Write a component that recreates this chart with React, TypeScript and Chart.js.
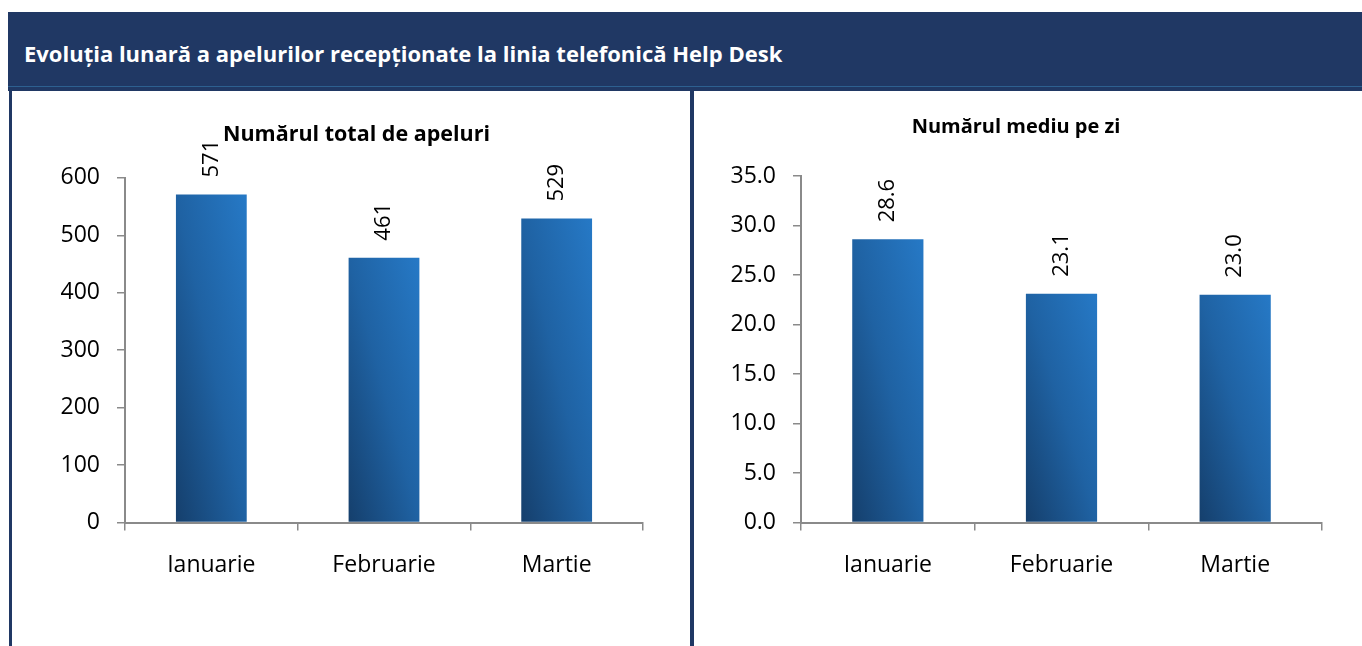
import React, { useEffect, useRef } from "react";
import { Chart, registerables } from "chart.js";

Chart.register(...registerables);

// ---- data ----
const headerTitle = "Evoluția lunară a apelurilor recepționate la linia telefonică Help Desk";
const categories = ["Ianuarie", "Februarie", "Martie"];
const totalCalls = [571, 461, 529];
const averagePerDay = [28.6, 23.1, 23.0];
const totalTitle = "Numărul total de apeluri";
const averageTitle = "Numărul mediu pe zi";
const totalAxis = [0, 600, 100]; // min, max, step
const averageAxis = [0, 35, 5];

// ---- styling ----
const FONT = "'Open Sans', Lato, sans-serif";
const NAVY = "#203864";
const AXIS = "#8a8a8a";
const BAR_PCT = 0.41;

const valueLabels = {
  id: "valueLabels",
  afterDatasetsDraw(chart: any, _args: any, opts: any) {
    const { ctx } = chart;
    const meta = chart.getDatasetMeta(0);
    const data = chart.data.datasets[0].data as number[];
    ctx.save();
    ctx.font = `22px ${FONT}`;
    ctx.fillStyle = "#000";
    ctx.textAlign = "left";
    ctx.textBaseline = "middle";
    meta.data.forEach((el: any, i: number) => {
      const p = el.getProps(["x", "y"], true);
      ctx.save();
      ctx.translate(p.x, p.y - 17);
      ctx.rotate(-Math.PI / 2);
      ctx.fillText(Number(data[i]).toFixed(opts.decimals || 0), 0, 0);
      ctx.restore();
    });
    ctx.restore();
  },
};

// centres the title block on a given canvas x
const titleCenter = {
  id: "titleCenter",
  afterLayout(chart: any, _args: any, opts: any) {
    const t = chart.titleBlock;
    if (!t || opts.x == null) return;
    const w = t.right - t.left;
    t.left = opts.x - w / 2;
    t.right = opts.x + w / 2;
  },
};

function barGradient(c: any) {
  const chart = c.chart;
  const xs = chart.scales?.x;
  const ys = chart.scales?.y;
  if (!xs || !ys || c.type !== "data" || !xs.width) return "#1f62a3";
  const v = Number(c.raw);
  const xc = xs.getPixelForValue(c.dataIndex);
  const w = (xs.width / categories.length) * BAR_PCT;
  const xl = xc - w / 2;
  const yb = ys.getPixelForValue(0);
  const yt = ys.getPixelForValue(v);
  const h = Math.max(yb - yt, 1);
  const k = (2 * w * h) / (w * w + h * h);
  const g = chart.ctx.createLinearGradient(xl, yb, xl + h * k, yb - w * k);
  g.addColorStop(0, "#153f6c");
  g.addColorStop(0.5, "#1f62a3");
  g.addColorStop(1, "#2679c6");
  return g;
}

function makeConfig(
  values: number[],
  title: string,
  titleSize: number,
  titleX: number,
  axis: number[],
  decimals: number,
  yWidth: number,
  rightPad: number,
  titleTop: number,
  titleBottom: number
): any {
  return {
    type: "bar",
    data: {
      labels: categories,
      datasets: [
        {
          data: values,
          backgroundColor: barGradient,
          borderWidth: 0,
          barPercentage: BAR_PCT,
          categoryPercentage: 1,
        },
      ],
    },
    plugins: [valueLabels, titleCenter],
    options: {
      animation: false,
      responsive: false,
      events: [],
      layout: { padding: { left: 0, right: rightPad, top: 0, bottom: 0 } },
      plugins: {
        legend: { display: false },
        tooltip: { enabled: false },
        title: {
          display: true,
          text: title,
          color: "#000",
          font: { family: FONT, size: titleSize, weight: "bold", lineHeight: 1.2 },
          padding: { top: titleTop, bottom: titleBottom },
        },
        valueLabels: { decimals },
        titleCenter: { x: titleX },
      },
      scales: {
        x: {
          offset: true,
          grid: {
            display: true,
            offset: true,
            drawOnChartArea: false,
            drawTicks: true,
            tickLength: 8,
            color: AXIS,
            lineWidth: 1.5,
          },
          border: { display: true, color: AXIS, width: 2 },
          ticks: {
            color: "#000",
            font: { family: FONT, size: 23 },
            padding: 21,
            maxRotation: 0,
            autoSkip: false,
          },
          afterFit: (s: any) => {
            s.height = 123.5;
          },
        },
        y: {
          min: axis[0],
          max: axis[1],
          grid: {
            display: true,
            drawOnChartArea: false,
            drawTicks: true,
            tickLength: 8,
            color: AXIS,
            lineWidth: 1.5,
          },
          border: { display: true, color: AXIS, width: 2 },
          ticks: {
            stepSize: axis[2],
            color: "#000",
            font: { family: FONT, size: 23 },
            padding: 17,
            callback: (v: any) => Number(v).toFixed(decimals),
          },
          afterFit: (s: any) => {
            s.width = yWidth;
          },
        },
      },
    },
  };
}

function BarPanel(props: {
  config: any;
  left: number;
  width: number;
}) {
  const ref = useRef<HTMLCanvasElement | null>(null);
  useEffect(() => {
    if (!ref.current) return;
    const chart = new Chart(ref.current, props.config);
    return () => chart.destroy();
  }, []);
  return (
    <canvas
      ref={ref}
      width={props.width}
      height={556}
      style={{
        position: "absolute",
        left: props.left,
        top: 90,
        width: props.width,
        height: 556,
      }}
    />
  );
}

export default function App() {
  const leftCfg = makeConfig(totalCalls, totalTitle, 21.5, 344.5, totalAxis, 0, 113, 47, 32, 30);
  const rightCfg = makeConfig(averagePerDay, averageTitle, 20, 322, averageAxis, 1, 107, 16, 25, 37);
  return (
    <div
      style={{
        position: "absolute",
        left: 0,
        top: 0,
        width: 1362,
        height: 646,
        overflow: "hidden",
        background: "#fff",
      }}
    >
      <div
        style={{
          position: "absolute",
          left: 8,
          top: 12,
          width: 1354,
          height: 79,
          background: NAVY,
        }}
      />
      <div
        style={{
          position: "absolute",
          left: 8,
          top: 86,
          width: 1354,
          height: 1,
          background: "#2d6090",
        }}
      />
      <div
        style={{
          position: "absolute",
          left: 24,
          top: 40,
          fontFamily: FONT,
          fontWeight: "bold",
          fontSize: 22,
          lineHeight: 1.2,
          color: "#fff",
          whiteSpace: "nowrap",
        }}
      >
        {headerTitle}
      </div>
      <BarPanel config={leftCfg} left={12} width={678} />
      <BarPanel config={rightCfg} left={694} width={644} />
      <div
        style={{
          position: "absolute",
          left: 9,
          top: 90,
          width: 3,
          height: 556,
          background: NAVY,
        }}
      />
      <div
        style={{
          position: "absolute",
          left: 690,
          top: 90,
          width: 4,
          height: 556,
          background: NAVY,
        }}
      />
    </div>
  );
}
